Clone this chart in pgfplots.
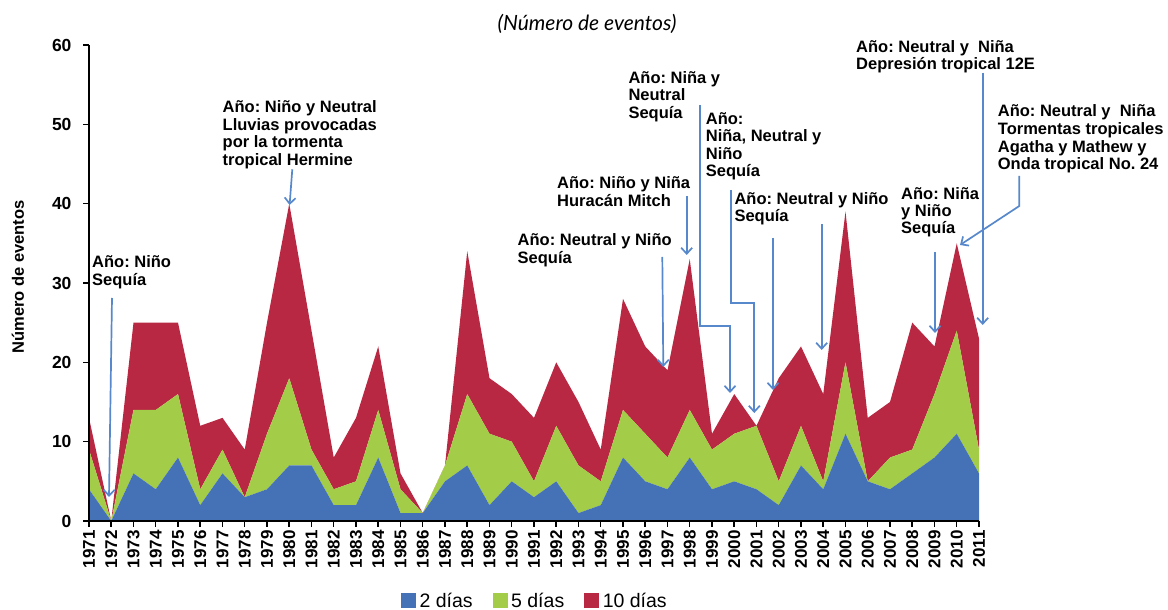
\documentclass[border=0pt]{standalone}
\usepackage{fontspec}
\setmainfont{Liberation Sans}
\newfontfamily\titlefont{Lato}
\usepackage{pgfplots}
\usepackage{pgfplotstable}
\pgfplotsset{compat=1.18}
\usetikzlibrary{arrows.meta}
\definecolor{cblue}{RGB}{69,114,182}
\definecolor{cgreen}{RGB}{163,205,72}
\definecolor{cred}{RGB}{185,40,67}
\definecolor{carrow}{RGB}{88,136,204}
\frenchspacing

\pgfplotstableread{
year b g r
1971 4 5 4
1972 0 0 0
1973 6 8 11
1974 4 10 11
1975 8 8 9
1976 2 2 8
1977 6 3 4
1978 3 0 6
1979 4 7 14
1980 7 11 22
1981 7 2 15
1982 2 2 4
1983 2 3 8
1984 8 6 8
1985 1 3 2
1986 1 0 0
1987 5 2 0
1988 7 9 18
1989 2 9 7
1990 5 5 6
1991 3 2 8
1992 5 7 8
1993 1 6 8
1994 2 3 4
1995 8 6 14
1996 5 6 11
1997 4 4 11
1998 8 6 19
1999 4 5 2
2000 5 6 5
2001 4 8 0
2002 2 3 13
2003 7 5 10
2004 4 1 11
2005 11 9 19
2006 5 0 8
2007 4 4 7
2008 6 3 16
2009 8 8 6
2010 11 13 11
2011 6 3 14
}\data

\newcommand{\annfont}{\fontsize{16.5}{18}\bfseries\selectfont}
\newcommand{\ann}[3]{\node[anchor=base west,inner sep=0pt,font=\annfont] at (#1pt,610pt-#2pt) {#3};}

\begin{document}
\begin{tikzpicture}
\path[use as bounding box] (0pt,0pt) rectangle (1168pt,610pt);
\begin{axis}[
  at={(89pt,89pt)}, anchor=south west,
  scale only axis, width=890pt, height=476pt,
  xmin=1971, xmax=2011, ymin=0, ymax=60,
  axis x line*=bottom, axis y line*=left,
  axis line style={line width=2pt,-},
  axis on top,
  xtick={1971,...,2011}, ytick={0,10,...,60},
  tick align=outside, major tick length=6pt,
  tick style={line width=1.5pt,black},
  /pgf/number format/.cd, 1000 sep={}, assume math mode=true, /pgfplots/.cd,
  x tick label style={rotate=90,anchor=east,font=\fontsize{17}{17}\bfseries\selectfont},
  y tick label style={xshift=-8pt,font=\fontsize{17.5}{17.5}\bfseries\selectfont},
  ylabel={Número de eventos},
  ylabel style={at={(axis description cs:-0.0798,0.5126)},anchor=center,font=\fontsize{16.5}{16.5}\bfseries\selectfont},
  stack plots=y,
  legend image code/.code={\fill[#1] (0pt,-7pt) rectangle (15pt,8pt);},
  legend style={at={(0.501,-0.168)},anchor=center,draw=none,fill=none,
    legend columns=3,font=\fontsize{19.5}{19.5}\selectfont,
    /tikz/every odd column/.append style={column sep=1.5pt},
    /tikz/every even column/.append style={column sep=18pt}},
  legend cell align=left,
]
\addplot[fill=cblue,draw=none] table[x=year,y=b]{\data} \closedcycle;
\addplot[fill=cgreen,draw=none] table[x=year,y=g]{\data} \closedcycle;
\addplot[fill=cred,draw=none] table[x=year,y=r]{\data} \closedcycle;
\legend{2 días,5 días,10 días}
\end{axis}

\begin{scope}[x=1pt,y=1pt]
% title
\node[anchor=base,inner sep=0pt,font=\titlefont\fontsize{21}{21}\itshape\selectfont] at (587,610-31) {(Número de eventos)};
\end{scope}

% annotations
\ann{92}{268}{Año: Niño}
\ann{92}{286}{Sequía}
\ann{222.5}{112.5}{Año: Niño y Neutral}
\ann{222.5}{130.2}{Lluvias provocadas}
\ann{222.5}{147.9}{por la tormenta}
\ann{222.5}{165.6}{tropical Hermine}
\ann{517.5}{246}{Año: Neutral y Niño}
\ann{517.5}{263.5}{Sequía}
\ann{557}{189}{Año: Niño y Niña}
\ann{557}{206.5}{Huracán Mitch}
\ann{628.3}{83.5}{Año: Niña y}
\ann{628.3}{101}{Neutral}
\ann{628.3}{118.5}{Sequía}
\ann{705.7}{124.5}{Año:}
\ann{705.7}{142}{Niña, Neutral y}
\ann{705.7}{159.5}{Niño}
\ann{705.7}{177}{Sequía}
\ann{734.3}{204.5}{Año: Neutral y Niño}
\ann{734.3}{222}{Sequía}
\ann{901}{199.3}{Año: Niña}
\ann{901}{216.3}{y Niño}
\ann{901}{233.3}{Sequía}
\ann{856}{52.5}{Año: Neutral y \ Niña}
\ann{856}{70}{Depresión tropical 12E}
\ann{997.7}{117}{Año: Neutral y \ Niña}
\ann{997.7}{135}{Tormentas tropicales}
\ann{997.7}{152.5}{Agatha y Mathew y}
\ann{997.7}{170}{Onda tropical No. 24}

\begin{scope}[x=1pt,y=1pt,carrow,line width=1.7pt,-{Straight Barb[length=6pt,width=11pt]}]
\draw (112,610-298) -- (109,610-497);
\draw (292.3,610-169.3) -- (289.6,610-205);
\draw (662.3,610-257) -- (663.3,610-367);
\draw (686.7,610-196) -- (686.7,610-255);
\draw (700,610-105) -- (700,610-326) -- (730,610-326) -- (730,610-393);
\draw (731.3,610-190) -- (731.3,610-303) -- (754.3,610-303) -- (754.3,610-413);
\draw (773,610-238) -- (773,610-390);
\draw (821.7,610-224) -- (821.7,610-350);
\draw (935,610-252) -- (935,610-333);
\draw (982.7,610-72.7) -- (982.7,610-325);
\draw (1019.3,610-176) -- (1019.3,610-206) -- (960,610-245);
\end{scope}
\end{tikzpicture}
\end{document}
